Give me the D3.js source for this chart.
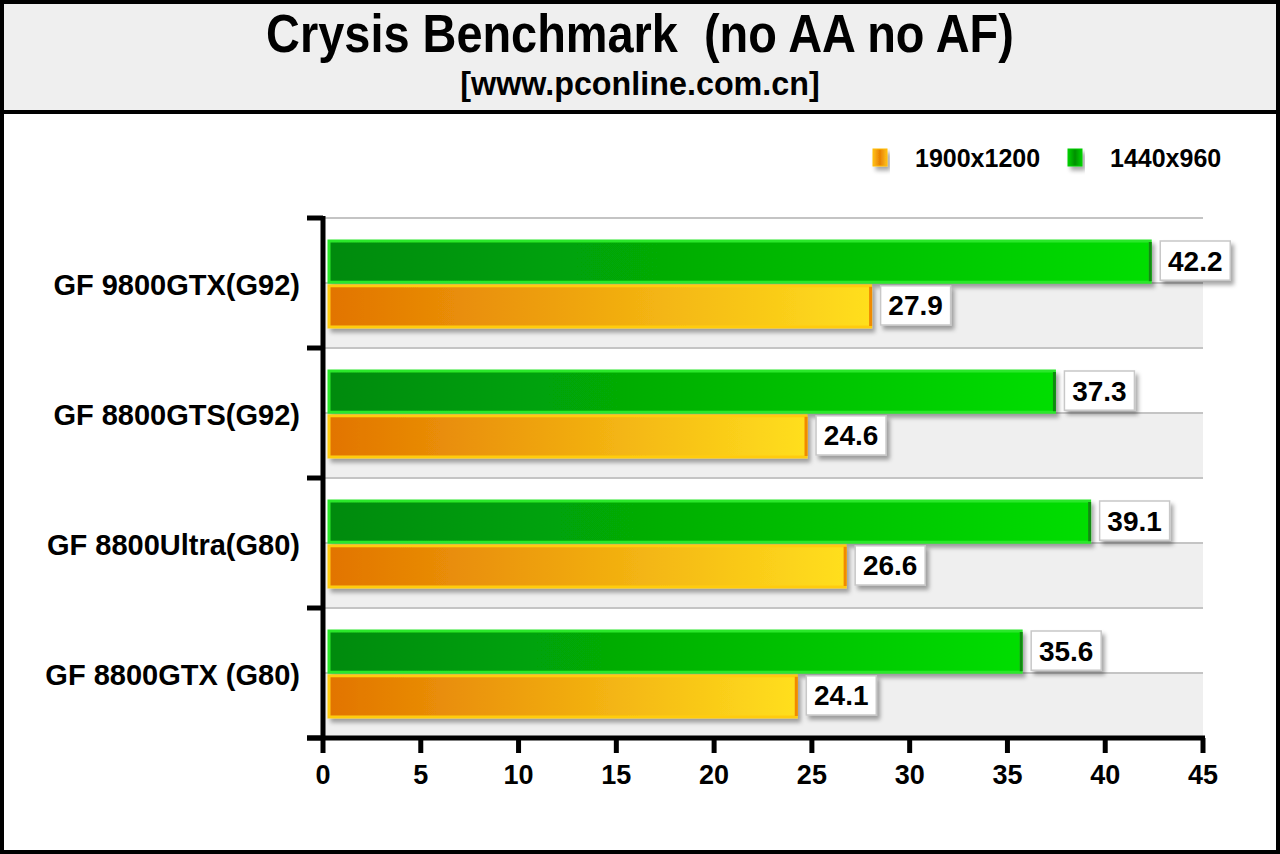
<!DOCTYPE html>
<html><head><meta charset="utf-8">
<script src="https://cdn.jsdelivr.net/npm/d3@7/dist/d3.min.js"></script>
<style>body{margin:0;background:#fff}svg{display:block}</style>
</head><body>
<script>
const categories = ["GF 9800GTX(G92)", "GF 8800GTS(G92)", "GF 8800Ultra(G80)", "GF 8800GTX (G80)"];
const seriesNames = ["1440x960", "1900x1200"];
const values1440 = [42.2, 37.3, 39.1, 35.6];
const values1900 = [27.9, 24.6, 26.6, 24.1];
const xTicks = [0, 5, 10, 15, 20, 25, 30, 35, 40, 45];
const title = "Crysis Benchmark\u00a0\u00a0(no AA no AF)";
const subtitle = "[www.pconline.com.cn]";
const legendOrder = ["1900x1200", "1440x960"];

const W = 1280, H = 854;
const svg = d3.select("body").append("svg").attr("width", W).attr("height", H);
const defs = svg.append("defs");

const gG = defs.append("linearGradient").attr("id", "gGreen");
gG.append("stop").attr("offset", "0").attr("stop-color", "#008a0a");
gG.append("stop").attr("offset", "1").attr("stop-color", "#00de00");
const gO = defs.append("linearGradient").attr("id", "gOrange");
gO.append("stop").attr("offset", "0").attr("stop-color", "#e27400");
gO.append("stop").attr("offset", "1").attr("stop-color", "#ffdf1e");
const lgG = defs.append("linearGradient").attr("id", "lgGreen");
lgG.append("stop").attr("offset", "0").attr("stop-color", "#00d000");
lgG.append("stop").attr("offset", "0.5").attr("stop-color", "#009000");
lgG.append("stop").attr("offset", "1").attr("stop-color", "#00d000");
const lgO = defs.append("linearGradient").attr("id", "lgOrange");
lgO.append("stop").attr("offset", "0").attr("stop-color", "#ffc020");
lgO.append("stop").attr("offset", "0.5").attr("stop-color", "#e88000");
lgO.append("stop").attr("offset", "1").attr("stop-color", "#ffc020");
const f = defs.append("filter").attr("id", "sh").attr("x", "-10%").attr("y", "-30%").attr("width", "130%").attr("height", "180%");
f.append("feDropShadow").attr("dx", 3).attr("dy", 4).attr("stdDeviation", 2).attr("flood-color", "#000").attr("flood-opacity", 0.35);

const fill = {"1440x960": "url(#gGreen)", "1900x1200": "url(#gOrange)"};
const stroke = {"1440x960": "#2be82b", "1900x1200": "#ffcc10"};
const legendFill = {"1440x960": "url(#lgGreen)", "1900x1200": "url(#lgOrange)"};

// background frames
svg.append("rect").attr("x", 2).attr("y", 2).attr("width", W - 4).attr("height", 110)
  .attr("fill", "#efefef").attr("stroke", "#000").attr("stroke-width", 4);
svg.append("rect").attr("x", 2).attr("y", 112).attr("width", W - 4).attr("height", H - 114)
  .attr("fill", "#fff").attr("stroke", "#000").attr("stroke-width", 4);

const font = "'Liberation Sans', Arial, sans-serif";
svg.append("text").attr("transform", "translate(640,52) scale(0.885,1)").attr("text-anchor", "middle")
  .attr("font-family", font)
  .attr("font-weight", "bold").attr("font-size", 53).attr("fill", "#000").text(title);
svg.append("text").attr("transform", "translate(640,95) scale(0.95,1)").attr("text-anchor", "middle")
  .attr("font-family", font)
  .attr("font-weight", "bold").attr("font-size", 34).attr("fill", "#000").text(subtitle);

const x = d3.scaleLinear().domain([0, 45]).range([323, 1203]);
const y = d3.scaleBand().domain(categories).range([218, 738]);
const yi = d3.scaleBand().domain(seriesNames).range([23, 109]).paddingInner(0.08);

// alternating bands
const half = y.bandwidth() / 2;
categories.forEach(c => {
  svg.append("rect").attr("x", x(0)).attr("y", y(c) + half).attr("width", x(45) - x(0)).attr("height", half)
    .attr("fill", "#efefef");
});
// grid lines
const gridYs = [];
categories.forEach(c => { gridYs.push(y(c)); gridYs.push(y(c) + half); });
svg.selectAll(".grid").data(gridYs).enter().append("line")
  .attr("x1", x(0)).attr("x2", x(45)).attr("y1", d => d).attr("y2", d => d)
  .attr("stroke", "#c4c4c4").attr("stroke-width", 2);

// bars
const data = [];
categories.forEach((c, i) => {
  data.push({c, s: "1440x960", v: values1440[i]});
  data.push({c, s: "1900x1200", v: values1900[i]});
});
const barG = svg.append("g");
barG.selectAll("rect").data(data).enter().append("rect")
  .attr("x", x(0) + 6).attr("y", d => y(d.c) + yi(d.s))
  .attr("width", d => x(d.v) - x(0) - 4).attr("height", yi.bandwidth())
  .attr("fill", d => fill[d.s]).attr("stroke", d => stroke[d.s]).attr("stroke-width", 3)
  .attr("filter", "url(#sh)");
// darker right edge
barG.selectAll("line").data(data).enter().append("line")
  .attr("x1", d => x(d.v) + 2).attr("x2", d => x(d.v) + 2)
  .attr("y1", d => y(d.c) + yi(d.s) + 1).attr("y2", d => y(d.c) + yi(d.s) + yi.bandwidth() - 1)
  .attr("stroke", d => d.s === "1440x960" ? "#118a11" : "#f08a00").attr("stroke-width", 3);

// value labels
const lab = svg.append("g").selectAll("g").data(data).enter().append("g")
  .attr("transform", d => `translate(${x(d.v) + 12},${y(d.c) + yi(d.s) + 0})`);
lab.append("rect").attr("width", 70).attr("height", yi.bandwidth() - 2)
  .attr("fill", "#fff").attr("stroke", "#c8c8c8").attr("stroke-width", 1.5).attr("filter", "url(#sh)");
lab.append("text").attr("x", 35).attr("y", (yi.bandwidth() - 2) / 2 + 10).attr("text-anchor", "middle")
  .attr("font-family", font).attr("font-weight", "bold").attr("font-size", 28).attr("fill", "#000")
  .text(d => d.v.toFixed(1));

// y axis
const yAxis = svg.append("g");
yAxis.append("line").attr("x1", x(0)).attr("x2", x(0)).attr("y1", 216).attr("y2", 740)
  .attr("stroke", "#000").attr("stroke-width", 5);
const bounds = categories.map(c => y(c)).concat([y.range()[1]]);
yAxis.selectAll(".t").data(bounds).enter().append("line")
  .attr("x1", x(0) - 16).attr("x2", x(0)).attr("y1", d => d).attr("y2", d => d)
  .attr("stroke", "#000").attr("stroke-width", 5);
yAxis.selectAll("text").data(categories).enter().append("text")
  .attr("x", 300).attr("y", c => y(c) + y.bandwidth() / 2 + 12).attr("text-anchor", "end")
  .attr("font-family", font).attr("font-weight", "bold").attr("font-size", 29).attr("fill", "#000")
  .text(c => c);

// x axis
const xAxis = svg.append("g");
xAxis.append("line").attr("x1", x(0) - 16).attr("x2", x(45) + 2).attr("y1", 738).attr("y2", 738)
  .attr("stroke", "#000").attr("stroke-width", 5);
xAxis.selectAll(".t").data(xTicks).enter().append("line")
  .attr("x1", d => x(d)).attr("x2", d => x(d)).attr("y1", 738).attr("y2", 753)
  .attr("stroke", "#000").attr("stroke-width", 5);
xAxis.selectAll("text").data(xTicks).enter().append("text")
  .attr("x", d => x(d)).attr("y", 784).attr("text-anchor", "middle")
  .attr("font-family", font).attr("font-weight", "bold").attr("font-size", 27).attr("fill", "#000")
  .text(d => d);

// legend
const legX = {"1900x1200": 873, "1440x960": 1068};
const lg = svg.append("g").selectAll("g").data(legendOrder).enter().append("g")
  .attr("transform", d => `translate(${legX[d]},149)`);
lg.append("rect").attr("width", 14).attr("height", 17).attr("fill", d => legendFill[d])
  .attr("stroke", d => d === "1440x960" ? "#00cc00" : "#ffbb00").attr("stroke-width", 1).attr("filter", "url(#sh)");
lg.append("text").attr("x", 42).attr("y", 18).attr("font-family", font).attr("font-weight", "bold")
  .attr("font-size", 25).attr("fill", "#000").text(d => d);
</script>
</body></html>
